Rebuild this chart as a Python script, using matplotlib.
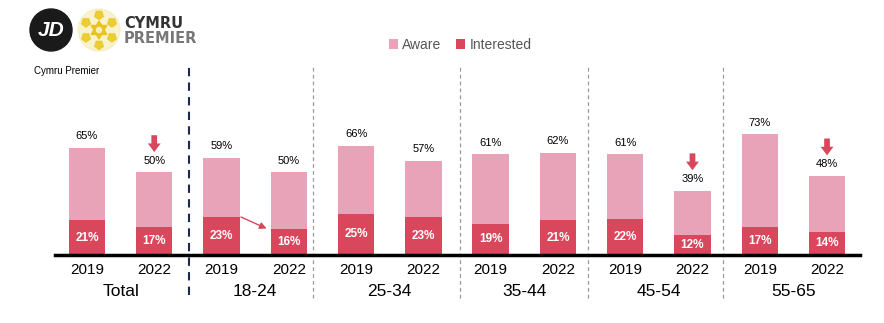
import matplotlib
matplotlib.use("Agg")
import matplotlib.pyplot as plt
from matplotlib.patches import Circle, FancyArrow, RegularPolygon
from matplotlib import font_manager
import numpy as np

plt.rcParams['font.family'] = ['Liberation Sans', 'DejaVu Sans']

groups = ["Total", "18-24", "25-34", "35-44", "45-54", "55-65"]
years = ["2019", "2022"] * 6
aware = [65, 50, 59, 50, 66, 57, 61, 62, 61, 39, 73, 48]
interested = [21, 17, 23, 16, 25, 23, 19, 21, 22, 12, 17, 14]
down_arrows = [1, 9, 11]  # bars flagged with a down arrow
separators = [1.52, 3.36, 5.54, 7.44, 9.46]

pink = "#E8A3B8"
red = "#D9475D"

W, H = 884, 323
fig = plt.figure(figsize=(W / 100, H / 100), dpi=100)
ax = fig.add_axes([55 / W, 1 - 255 / H, (860 - 55) / W, (255 - 65) / H])

x = np.arange(len(aware))
bw = 0.54
ax.bar(x, aware, width=bw, color=pink, label="Aware", zorder=2)
ax.bar(x, interested, width=bw, color=red, label="Interested", zorder=3)

ax.set_xlim(-0.475, 11.49)
ax.set_ylim(0, 115)
for s in ["top", "right", "left"]:
    ax.spines[s].set_visible(False)
ax.spines["bottom"].set_linewidth(2.5)
ax.spines["bottom"].set_color("black")
ax.spines["bottom"].set_zorder(4)
ax.set_yticks([])
ax.set_xticks(x)
ax.set_xticklabels(years, fontsize=11)
ax.tick_params(axis="x", length=0, pad=6)

for xi, a, i in zip(x, aware, interested):
    ax.text(xi, a + 4, f"{a}%", ha="center", va="bottom", fontsize=8, color="black")
    ax.text(xi, i / 2, f"{i}%", ha="center", va="center", fontsize=8.5,
            color="white", fontweight="bold", zorder=5)

# group labels
for gi, g in enumerate(groups):
    ax.text(2 * gi + 0.5, -22, g, ha="center", va="center", fontsize=12.5,
            transform=ax.transData, clip_on=False)

# separators
for k, sx in enumerate(separators):
    if k == 0:
        ax.plot([sx, sx], [-24, 115], color="#1F2A4A", lw=1.5, ls=(0, (4, 3)),
                clip_on=False, zorder=1)
    else:
        ax.plot([sx, sx], [-26, 114], color="#9A9A9A", lw=0.9, ls=(0, (3, 2.5)),
                clip_on=False, zorder=1)

# down arrows
for b in down_arrows:
    top = aware[b] + 22.5
    ax.add_patch(FancyArrow(b, top, 0, -5.0, width=0.085, head_width=0.19,
                            head_length=5.2, length_includes_head=False,
                            color=red, lw=0, zorder=5, clip_on=False))

# thin arrow 18-24
ax.annotate("", xy=(2.67, 16), xytext=(2.29, 23),
            arrowprops=dict(arrowstyle="-|>", color=red, lw=1.0,
                            mutation_scale=10, shrinkA=0, shrinkB=0))

# legend
fig.legend(loc="center", bbox_to_anchor=(460 / W, 1 - 45 / H), ncol=2,
           frameon=False, fontsize=10, handlelength=0.7, handleheight=0.7,
           handletextpad=0.3, columnspacing=1.0, labelcolor="#555555")

fig.text(34 / W, 1 - 71 / H, "Cymru Premier", fontsize=7, ha="left", va="center")

# logo
names = {f.name for f in font_manager.fontManager.ttflist}
narrow = "Liberation Sans Narrow" if "Liberation Sans Narrow" in names else "DejaVu Sans"
lax = fig.add_axes([0, 1 - 60 / H, 180 / W, 60 / H])
lax.set_xlim(0, 180)
lax.set_ylim(60, 0)
lax.set_aspect("equal")
lax.axis("off")
lax.add_patch(Circle((51, 30), 21, color="#1A1A1A"))
lax.text(51, 31, "JD", color="white", fontsize=15, fontweight="bold",
         fontstyle="italic", ha="center", va="center")
lax.add_patch(Circle((99, 30), 21, color="#F6EDB8", alpha=0.7))
for ang in range(30, 390, 60):
    r = np.deg2rad(ang)
    lax.add_patch(RegularPolygon((99 + 15 * np.cos(r), 30 + 15 * np.sin(r)), 5,
                                 radius=4.5, color="#EBCB2E", alpha=0.95))
lax.add_patch(RegularPolygon((99, 30), 3, radius=9, color="#E8C322"))
lax.add_patch(RegularPolygon((99, 30), 3, radius=9, orientation=np.pi, color="#E8C322"))
lax.add_patch(Circle((99, 30), 2.5, color="#F8F0C0"))
lax.text(124, 24, "CYMRU", color="#333333", fontsize=10.5, fontweight="bold",
         ha="left", va="center", fontfamily=narrow)
lax.text(124, 38.5, "PREMIER", color="#777777", fontsize=10.5, fontweight="bold",
         ha="left", va="center", fontfamily=narrow)

fig.savefig("out.png", dpi=100)
